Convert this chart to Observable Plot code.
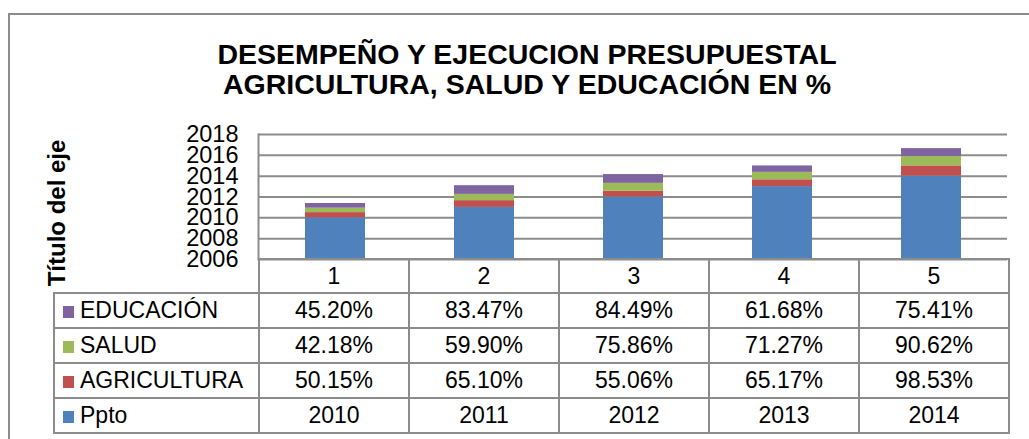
<!DOCTYPE html>
<html>
<head>
<meta charset="utf-8">
<script src="https://cdn.jsdelivr.net/npm/d3@7"></script>
<script src="https://cdn.jsdelivr.net/npm/@observablehq/plot@0.6"></script>
<style>
  html, body { margin: 0; padding: 0; background: #fff; width: 1029px; height: 439px; overflow: hidden; }
  body { font-family: "Liberation Sans", Arial, sans-serif; position: relative; }
  #frame { position: absolute; left: 8px; top: 13px; width: 1040px; height: 460px; border: 2px solid #8c8c8c; box-sizing: border-box; }
  #title { position: absolute; left: 8px; top: 39px; width: 1038px; text-align: center; font-weight: bold; font-size: 28.5px; line-height: 30px; color: #000; }
  #chart { position: absolute; left: 0; top: 0; }
  #chart g[aria-label="y-axis label"] { font-weight: bold; font-size: 24px; translate: 1px 16px; }
  #tbl { position: absolute; left: 53px; top: 258px; border-collapse: collapse; table-layout: fixed; font-size: 23px; color: #000; }
  #tbl td { border: 2px solid #8c8c8c; text-align: center; padding: 0; height: 33px; white-space: nowrap; }
  #tbl tr.head td { height: 32px; }
  #tbl tr.head td.blank { border: none; }
  #tbl td.leg { text-align: left; padding-left: 8px; }
  #tbl .sw { display: inline-block; width: 11px; height: 12px; margin-right: 6px; vertical-align: 0px; }
</style>
</head>
<body>
<div id="frame"></div>
<div id="title">DESEMPEÑO Y EJECUCION PRESUPUESTAL<br>AGRICULTURA, SALUD Y EDUCACIÓN EN %</div>
<div id="chart"></div>
<table id="tbl"></table>
<script>
// ---- data ----
const categories = ["1", "2", "3", "4", "5"];
const ppto = [2010, 2011, 2012, 2013, 2014];
const agricultura = [50.15, 65.10, 55.06, 65.17, 98.53];
const salud = [42.18, 59.90, 75.86, 71.27, 90.62];
const educacion = [45.20, 83.47, 84.49, 61.68, 75.41];
const seriesNames = ["Ppto", "AGRICULTURA", "SALUD", "EDUCACIÓN"];
const seriesColors = ["#4F81BD", "#C0504D", "#9BBB59", "#8064A2"];
const yTicks = [2006, 2008, 2010, 2012, 2014, 2016, 2018];
const yTitle = "Título del eje";

// ---- long table for stacking ----
const rows = [];
categories.forEach((c, i) => {
  rows.push({cat: c, serie: "Ppto", v: ppto[i]});
  rows.push({cat: c, serie: "AGRICULTURA", v: agricultura[i] / 100});
  rows.push({cat: c, serie: "SALUD", v: salud[i] / 100});
  rows.push({cat: c, serie: "EDUCACIÓN", v: educacion[i] / 100});
});

const plot = Plot.plot({
  width: 1029,
  height: 300,
  marginTop: 134,
  marginBottom: 41,
  marginLeft: 258,
  marginRight: 22,
  style: {fontFamily: "'Liberation Sans', Arial, sans-serif", background: "transparent", color: "#000", overflow: "visible"},
  x: {domain: categories, paddingInner: 0.6, paddingOuter: 0.3, axis: null},
  y: {domain: [2006, 2018]},
  color: {domain: seriesNames, range: seriesColors},
  marks: [
    Plot.gridY(yTicks, {stroke: "#8c8c8c", strokeOpacity: 1, strokeWidth: 2}),
    Plot.barY(rows, {x: "cat", y: "v", fill: "serie", order: seriesNames, clip: true}),
    Plot.frame({anchor: "left", stroke: "#8c8c8c", strokeWidth: 2}),
    Plot.axisY(yTicks, {
      tickSize: 0, tickPadding: 20, fontSize: 23.5, tickFormat: d3.format("d"),
      label: yTitle, labelAnchor: "center", labelArrow: "none", labelOffset: 212
    })
  ]
});
document.getElementById("chart").appendChild(plot);

// ---- data table ----
const tbl = document.getElementById("tbl");
const colgroup = document.createElement("colgroup");
[205, 150, 150, 150, 150, 150].forEach(w => {
  const col = document.createElement("col");
  col.style.width = w + "px";
  colgroup.appendChild(col);
});
tbl.appendChild(colgroup);

const head = document.createElement("tr");
head.className = "head";
const blank = document.createElement("td");
blank.className = "blank";
head.appendChild(blank);
categories.forEach(c => {
  const td = document.createElement("td");
  td.textContent = c;
  head.appendChild(td);
});
tbl.appendChild(head);

const tableRows = [
  {name: "EDUCACIÓN", vals: educacion.map(v => v.toFixed(2) + "%")},
  {name: "SALUD", vals: salud.map(v => v.toFixed(2) + "%")},
  {name: "AGRICULTURA", vals: agricultura.map(v => v.toFixed(2) + "%")},
  {name: "Ppto", vals: ppto.map(v => String(v))}
];
tableRows.forEach(r => {
  const tr = document.createElement("tr");
  const lg = document.createElement("td");
  lg.className = "leg";
  const sw = document.createElement("span");
  sw.className = "sw";
  sw.style.background = seriesColors[seriesNames.indexOf(r.name)];
  lg.appendChild(sw);
  lg.appendChild(document.createTextNode(r.name));
  tr.appendChild(lg);
  r.vals.forEach(v => {
    const td = document.createElement("td");
    td.textContent = v;
    tr.appendChild(td);
  });
  tbl.appendChild(tr);
});
</script>
</body>
</html>
